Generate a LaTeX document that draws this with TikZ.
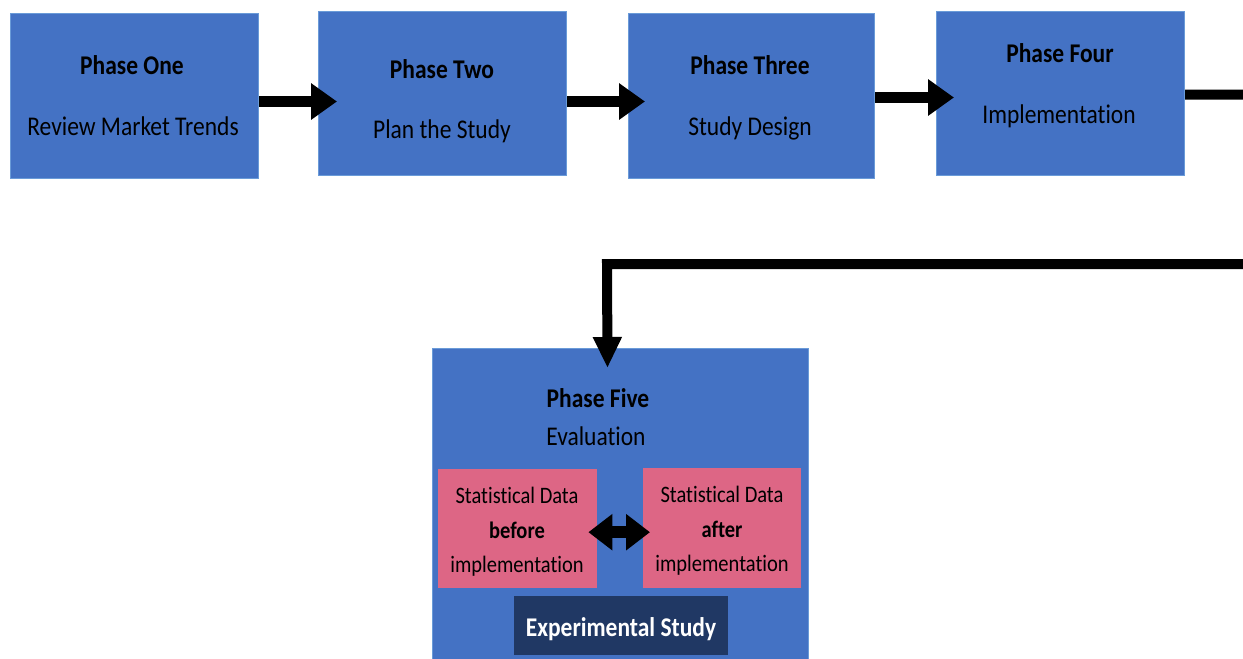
\documentclass[tikz,border=0pt]{standalone}
\usepackage{fontspec}
\setmainfont{Carlito}[Ligatures=NoCommon]
\usetikzlibrary{arrows.meta}
\definecolor{phaseblue}{HTML}{4472C4}
\definecolor{phaseedge}{HTML}{6A9BD8}
\definecolor{datapink}{HTML}{DD6685}
\definecolor{studynavy}{HTML}{203864}
% slightly taller lettering
\newcommand{\tallt}[1]{\scalebox{1}[1.15]{#1}}
\begin{document}
\begin{tikzpicture}[x=1pt,y=-1pt,
  phase/.style={draw=phaseedge, line width=1pt, fill=phaseblue, inner sep=0pt, anchor=north west},
  databox/.style={draw=none, fill=datapink, inner sep=0pt, anchor=north west},
  studybox/.style={draw=none, fill=studynavy, inner sep=0pt, anchor=north west},
  heading/.style={anchor=base, inner sep=0pt, font=\fontsize{23.5}{28}\selectfont\bfseries},
  caption/.style={anchor=base, inner sep=0pt, font=\fontsize{23.5}{28}\selectfont},
  datatext/.style={anchor=base, inner sep=0pt, font=\fontsize{20.5}{24}\selectfont},
  flow/.style={line width=11pt, -{Triangle[width=35pt,length=26pt]}},
  drop/.style={line width=10pt, line join=miter, -{Triangle[width=27pt,length=31pt]}},
  compare/.style={line width=12pt, {Triangle[width=35pt,length=24pt]}-{Triangle[width=35pt,length=24pt]}}
]
\useasboundingbox (0,0) rectangle (1243,659);

% phase boxes
\node[phase, minimum width=248, minimum height=165] (p1) at (10,13) {};
\node[phase, minimum width=248, minimum height=164] (p2) at (318,11) {};
\node[phase, minimum width=246, minimum height=165] (p3) at (628,13) {};
\node[phase, minimum width=248, minimum height=164] (p4) at (936,11) {};
\node[phase, minimum width=376, minimum height=330] (p5) at (432,348) {};

% inner boxes of the evaluation phase
\node[databox, minimum width=159, minimum height=119] (pa) at (438,469) {};
\node[databox, minimum width=158, minimum height=120] (pb) at (643,468) {};
\node[studybox, minimum width=214, minimum height=59] (st) at (514,596) {};

% labels
\node[heading] (h1) at (132,74) {\tallt{Phase One}};
\node[caption] (c1) at (133,135) {\tallt{Review Market Trends}};
\node[heading] (h2) at (442,78) {\tallt{Phase Two}};
\node[caption] (c2) at (442,138) {\tallt{Plan the Study}};
\node[heading] (h3) at (750,74) {\tallt{Phase Three}};
\node[caption] (c3) at (750,135) {\tallt{Study Design}};
\node[heading] (h4) at (1060,62) {\tallt{Phase Four}};
\node[caption] (c4) at (1059,123) {\tallt{Implementation}};
\node[heading] (h5) at (598,407) {\tallt{Phase Five}};
\node[caption] (c5) at (596,445) {\tallt{Evaluation}};

\node[datatext] (a1) at (517,503) {\tallt{Statistical Data}};
\node[datatext, font=\fontsize{20.5}{24}\selectfont\bfseries] (a2) at (517,538) {\tallt{before}};
\node[datatext] (a3) at (517,572) {\tallt{implementation}};
\node[datatext] (b1) at (722,502) {\tallt{Statistical Data}};
\node[datatext, font=\fontsize{20.5}{24}\selectfont\bfseries] (b2) at (722,537) {\tallt{after}};
\node[datatext] (b3) at (722,571) {\tallt{implementation}};
\node[datatext, text=white, font=\fontsize{23.5}{28}\selectfont\bfseries] (s1) at (621,636) {\tallt{Experimental Study}};

% connectors
\draw[flow] ([yshift=-5.5pt]p1.east) -- ([xshift=19pt,yshift=-8pt]p2.west);
\draw[flow] ([yshift=-8pt]p2.east) -- ([xshift=17pt,yshift=-5.5pt]p3.west);
\draw[flow] ([yshift=-1.5pt]p3.east) -- ([xshift=18pt,yshift=-4pt]p4.west);
\draw[drop] ([yshift=-1pt]p4.east) -- ++(80,0) -- (1264,264) -- (607,264)
  -- ([xshift=-13pt,yshift=-20pt]p5.north);
\draw[compare] ([xshift=-9pt,yshift=-3.5pt]pa.east) -- ([xshift=7pt,yshift=-4pt]pb.west);
\end{tikzpicture}
\end{document}
